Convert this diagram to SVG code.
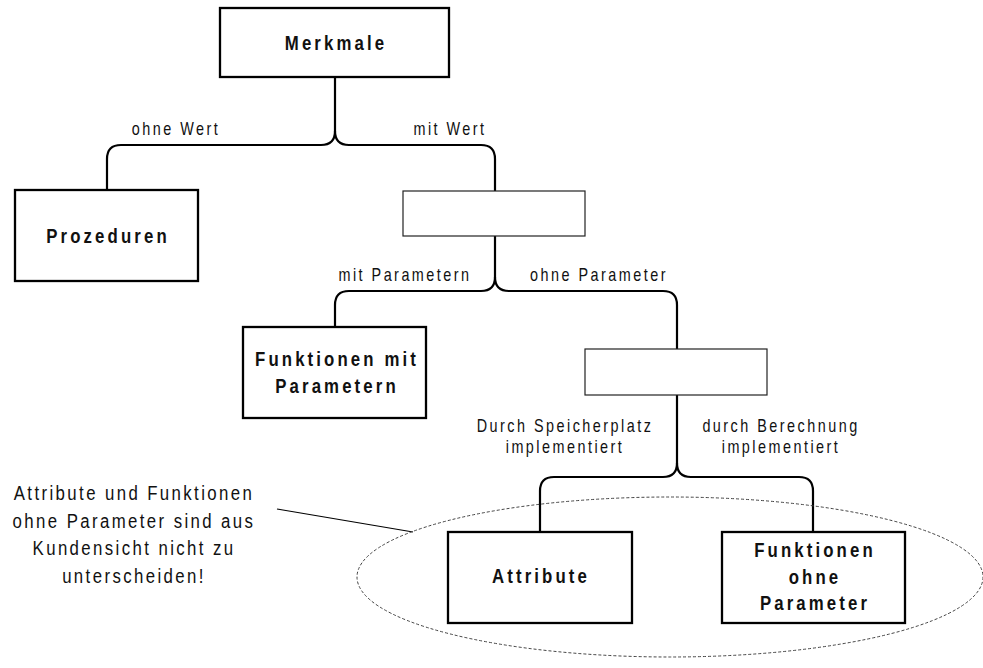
<svg xmlns="http://www.w3.org/2000/svg" width="983" height="668" viewBox="0 0 983 668">
<style>
.box{fill:#fff;stroke:#000;stroke-width:2.3}
.ebox{fill:#fff;stroke:#222;stroke-width:1.2}
.con{fill:none;stroke:#000;stroke-width:2.2}
.bt{font-family:"Liberation Sans",Arial,sans-serif;font-weight:bold;font-size:21px;letter-spacing:3.9px;text-anchor:middle;fill:#111}
.lt{font-family:"Liberation Sans",Arial,sans-serif;font-size:18px;letter-spacing:3.1px;text-anchor:middle;fill:#111}
.at{font-family:"Liberation Sans",Arial,sans-serif;font-size:21px;letter-spacing:3px;text-anchor:middle;fill:#111}
.ell{fill:none;stroke:#444;stroke-width:1;stroke-dasharray:3 2}
</style>
<rect width="983" height="668" fill="#fff"/>
<g id="connectors">
<path class="con" d="M335,77 V131 Q335,145 321,145 H121 Q107,145 107,159 V190"/>
<path class="con" d="M335,131 Q335,145 349,145 H481 Q495,145 495,159 V191"/>
<path class="con" d="M495,236 V277 Q495,291 481,291 H349 Q335,291 335,305 V327"/>
<path class="con" d="M495,277 Q495,291 509,291 H663 Q677,291 677,305 V349"/>
<path class="con" d="M677,395 V463 Q677,477 663,477 H554 Q540,477 540,491 V532"/>
<path class="con" d="M677,463 Q677,477 691,477 H799 Q813,477 813,491 V532"/>
<line x1="277" y1="509" x2="413" y2="532" stroke="#000" stroke-width="1.2"/>
</g>
<g id="labels">
<text class="lt" transform="matrix(0.8 0 0 1 176 135)">ohne Wert</text>
<text class="lt" transform="matrix(0.8 0 0 1 450 135)">mit Wert</text>
<text class="lt" transform="matrix(0.8 0 0 1 405 281)">mit Parametern</text>
<text class="lt" transform="matrix(0.8 0 0 1 599 281)">ohne Parameter</text>
<text class="lt" transform="matrix(0.8 0 0 1 565 432)">Durch Speicherplatz</text>
<text class="lt" transform="matrix(0.8 0 0 1 565 453)">implementiert</text>
<text class="lt" transform="matrix(0.8 0 0 1 781 432)">durch Berechnung</text>
<text class="lt" transform="matrix(0.8 0 0 1 781 453)">implementiert</text>
</g>
<g id="ellipse">
<ellipse class="ell" cx="670" cy="577" rx="313" ry="80"/>
</g>
<g id="merkmale">
<rect class="box" x="220" y="8" width="229" height="69"/>
<text class="bt" transform="matrix(0.8 0 0 1 336 50)">Merkmale</text>
</g>
<g id="prozeduren">
<rect class="box" x="15" y="190" width="183" height="91"/>
<text class="bt" transform="matrix(0.8 0 0 1 108 243)">Prozeduren</text>
</g>
<g id="mitwert">
<rect class="ebox" x="403" y="191" width="182" height="45"/>
</g>
<g id="funktionenmit">
<rect class="box" x="243" y="327" width="183" height="91"/>
<text class="bt" transform="matrix(0.8 0 0 1 337 366)">Funktionen mit</text>
<text class="bt" transform="matrix(0.8 0 0 1 337 393)">Parametern</text>
</g>
<g id="ohneparameter">
<rect class="ebox" x="585" y="349" width="182" height="46"/>
</g>
<g id="attribute">
<rect class="box" x="448" y="532" width="184" height="91"/>
<text class="bt" transform="matrix(0.8 0 0 1 541 583)">Attribute</text>
</g>
<g id="funktionenohne">
<rect class="box" x="722" y="532" width="183" height="91"/>
<text class="bt" transform="matrix(0.8 0 0 1 815 557)">Funktionen</text>
<text class="bt" transform="matrix(0.8 0 0 1 815 583.5)">ohne</text>
<text class="bt" transform="matrix(0.8 0 0 1 815 610)">Parameter</text>
</g>
<g id="annotation">
<text class="at" transform="matrix(0.8 0 0 1 134 500)">Attribute und Funktionen</text>
<text class="at" transform="matrix(0.8 0 0 1 134 527.5)">ohne Parameter sind aus</text>
<text class="at" transform="matrix(0.8 0 0 1 134 555)">Kundensicht nicht zu</text>
<text class="at" transform="matrix(0.8 0 0 1 134 582.5)">unterscheiden!</text>
</g>
</svg>
